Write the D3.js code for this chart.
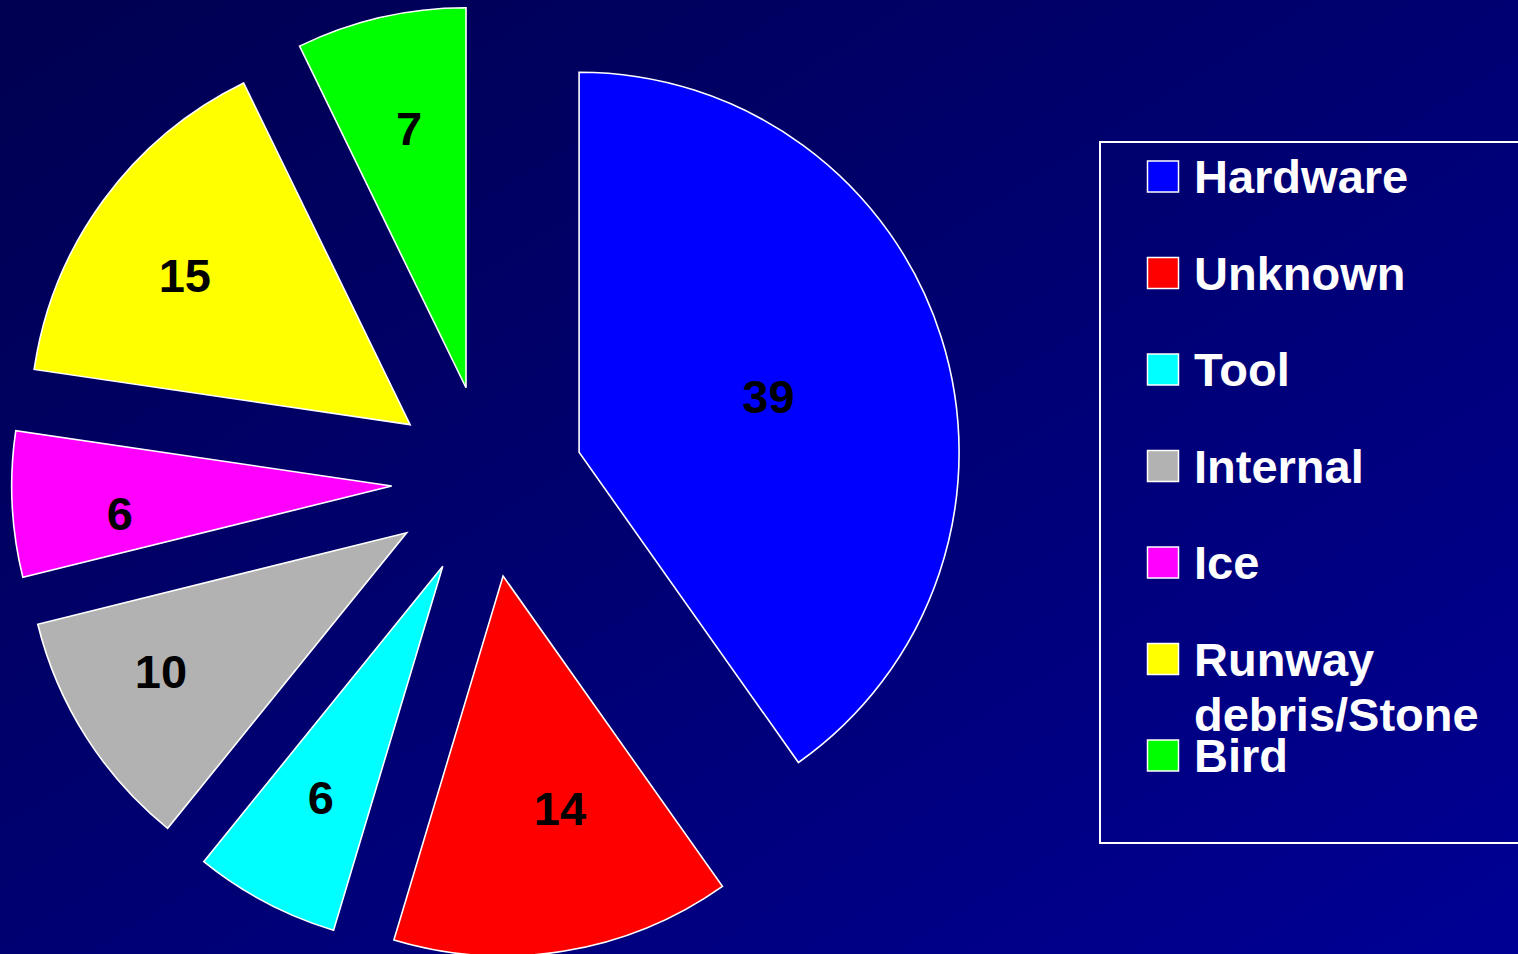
<!DOCTYPE html>
<html>
<head>
<meta charset="utf-8">
<script src="https://cdn.jsdelivr.net/npm/d3@7"></script>
<style>
  html, body { margin: 0; padding: 0; background: #000070; overflow: hidden; }
  svg { display: block; }
</style>
</head>
<body>
<svg id="chart" width="1518" height="954"></svg>
<script>
// ---- data ----
const categories = ["Hardware", "Unknown", "Tool", "Internal", "Ice", "Runway debris/Stone", "Bird"];
const values = [39, 14, 6, 10, 6, 15, 7];
const legendLines = [["Hardware"], ["Unknown"], ["Tool"], ["Internal"], ["Ice"], ["Runway", "debris/Stone"], ["Bird"]];
const colors = ["#0000FF", "#FF0000", "#00FFFF", "#B2B2B2", "#FF00FF", "#FFFF00", "#00FF00"];
// label placement (layout): distance along slice as fraction of radius, and angular shift (deg) from bisector
const labelFrac = [0.52, 0.629, 0.688, 0.742, 0.719, 0.711, 0.70];
const labelShift = [1.0, -4.5, 0, 3.1, -2.9, -2.7, 0.6];

// ---- layout ----
const W = 1518, H = 954;
const cx = 487.6, cy = 481.3, R = 380, explode = 96;
const fontFam = "'Liberation Sans', Arial, Helvetica, sans-serif";

const svg = d3.select("#chart");
const defs = svg.append("defs");
const grad = defs.append("linearGradient").attr("id", "bg")
  .attr("x1", "0%").attr("y1", "0%").attr("x2", "100%").attr("y2", "100%");
grad.append("stop").attr("offset", "0%").attr("stop-color", "#000050");
grad.append("stop").attr("offset", "100%").attr("stop-color", "#000094");
svg.append("rect").attr("width", W).attr("height", H).attr("fill", "url(#bg)");

const data = categories.map((c, i) => ({ cat: c, value: values[i], color: colors[i], lf: labelFrac[i], ls: labelShift[i] }));
const pie = d3.pie().value(d => d.value).sort(null).startAngle(0).endAngle(2 * Math.PI);
const arc = d3.arc().innerRadius(0).outerRadius(R);
const arcs = pie(data);

const g = svg.append("g").attr("transform", `translate(${cx},${cy})`);
const sl = g.selectAll("g.slice").data(arcs).join("g").attr("class", "slice")
  .attr("transform", d => {
    const a = (d.startAngle + d.endAngle) / 2;
    return `translate(${explode * Math.sin(a)},${-explode * Math.cos(a)})`;
  });
sl.append("path").attr("d", arc)
  .attr("fill", d => d.data.color)
  .attr("stroke", "#FFFFFF").attr("stroke-width", 1.6).attr("stroke-linejoin", "miter");
const labAng = d => (d.startAngle + d.endAngle) / 2 + d.data.ls * Math.PI / 180;
sl.append("text")
  .attr("x", d => d.data.lf * R * Math.sin(labAng(d)))
  .attr("y", d => -d.data.lf * R * Math.cos(labAng(d)))
  .attr("dy", "0.36em")
  .attr("text-anchor", "middle")
  .attr("font-family", fontFam).attr("font-weight", "bold").attr("font-size", 47)
  .attr("fill", "#000000")
  .text(d => d.data.value);

// ---- legend ----
const lg = svg.append("g");
lg.append("rect").attr("x", 1100).attr("y", 142).attr("width", 440).attr("height", 701)
  .attr("fill", "none").attr("stroke", "#FFFFFF").attr("stroke-width", 2);
const rowY = d3.scalePoint().domain(categories).range([176.5, 755.5]);
const items = lg.selectAll("g.item").data(data).join("g").attr("class", "item")
  .attr("transform", d => `translate(0,${rowY(d.cat)})`);
items.append("rect").attr("x", 1147.5).attr("y", -15.5).attr("width", 31).attr("height", 31)
  .attr("fill", d => d.color).attr("stroke", "#FFFFFF").attr("stroke-width", 1.5);
items.append("text")
  .attr("x", 1194).attr("y", 16.8)
  .attr("font-family", fontFam).attr("font-weight", "bold").attr("font-size", 47)
  .attr("fill", "#FFFFFF")
  .each(function(d, i) {
    const t = d3.select(this);
    legendLines[i].forEach((line, k) => {
      t.append("tspan").attr("x", 1194).attr("dy", k === 0 ? 0 : 55).text(line);
    });
  });
</script>
</body>
</html>
